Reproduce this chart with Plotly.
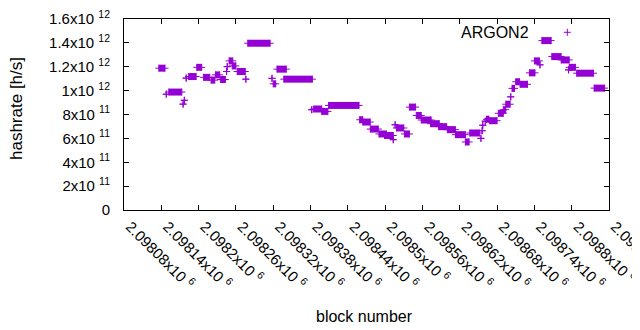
import plotly.graph_objects as go

# Runs of constant hashrate estimates: first block, last block, hashrate [h/s]
run_start = [2098136, 2098148, 2098152, 2098175, 2098177, 2098180, 2098184, 2098197,
             2098208, 2098220, 2098227, 2098235, 2098245, 2098246, 2098249, 2098254,
             2098262, 2098276, 2098279, 2098318, 2098320, 2098326, 2098337, 2098382,
             2098385, 2098398, 2098409, 2098459, 2098464, 2098476, 2098490, 2098499,
             2098513, 2098516, 2098518, 2098531, 2098539, 2098550, 2098558, 2098573,
             2098586, 2098600, 2098613, 2098629, 2098636, 2098654, 2098656, 2098657,
             2098661, 2098663, 2098668, 2098682, 2098690, 2098694, 2098702, 2098704,
             2098710, 2098717, 2098732, 2098740, 2098749, 2098752, 2098768, 2098783,
             2098795, 2098796, 2098808, 2098836]
run_end = [2098146, 2098148, 2098173, 2098175, 2098177, 2098180, 2098196, 2098205,
           2098218, 2098226, 2098234, 2098243, 2098245, 2098246, 2098255, 2098260,
           2098275, 2098276, 2098315, 2098318, 2098324, 2098341, 2098383, 2098382,
           2098398, 2098408, 2098458, 2098464, 2098476, 2098489, 2098502, 2098513,
           2098513, 2098516, 2098530, 2098539, 2098549, 2098558, 2098574, 2098587,
           2098599, 2098613, 2098629, 2098635, 2098652, 2098654, 2098656, 2098657,
           2098661, 2098667, 2098680, 2098690, 2098694, 2098701, 2098702, 2098708,
           2098716, 2098729, 2098741, 2098748, 2098749, 2098767, 2098783, 2098796,
           2098795, 2098806, 2098835, 2098853]
run_hashrate = [1.188e12, 0.970e12, 0.988e12, 0.887e12, 0.919e12, 1.105e12, 1.118e12, 1.195e12,
                1.111e12, 1.088e12, 1.132e12, 1.093e12, 1.160e12, 1.201e12, 1.249e12, 1.207e12,
                1.160e12, 1.096e12, 1.397e12, 1.103e12, 1.057e12, 1.180e12, 1.096e12, 0.840e12,
                0.846e12, 0.826e12, 0.876e12, 0.756e12, 0.737e12, 0.678e12, 0.637e12, 0.624e12,
                0.589e12, 0.714e12, 0.687e12, 0.637e12, 0.862e12, 0.792e12, 0.754e12, 0.723e12,
                0.698e12, 0.673e12, 0.631e12, 0.570e12, 0.645e12, 0.600e12, 0.664e12, 0.710e12,
                0.744e12, 0.760e12, 0.748e12, 0.810e12, 0.840e12, 0.886e12, 0.948e12, 1.019e12,
                1.074e12, 1.053e12, 1.149e12, 1.249e12, 1.216e12, 1.419e12, 1.285e12, 1.257e12,
                1.174e12, 1.195e12, 1.146e12, 1.021e12]

x_tickvals = [2098080, 2098140, 2098200, 2098260, 2098320, 2098380, 2098440,
              2098500, 2098560, 2098620, 2098680, 2098740, 2098800, 2098860]
x_ticktext = ["2.09808x10 <sup>6</sup>", "2.09814x10 <sup>6</sup>", "2.0982x10 <sup>6</sup>",
              "2.09826x10 <sup>6</sup>", "2.09832x10 <sup>6</sup>", "2.09838x10 <sup>6</sup>",
              "2.09844x10 <sup>6</sup>", "2.0985x10 <sup>6</sup>", "2.09856x10 <sup>6</sup>",
              "2.09862x10 <sup>6</sup>", "2.09868x10 <sup>6</sup>", "2.09874x10 <sup>6</sup>",
              "2.0988x10 <sup>6</sup>", "2.09886x10 <sup>6</sup>"]
y_tickvals = [0, 2e11, 4e11, 6e11, 8e11, 1e12, 1.2e12, 1.4e12, 1.6e12]
y_ticktext = ["0", "2x10 <sup>11</sup>", "4x10 <sup>11</sup>", "6x10 <sup>11</sup>",
              "8x10 <sup>11</sup>", "1x10 <sup>12</sup>", "1.2x10 <sup>12</sup>",
              "1.4x10 <sup>12</sup>", "1.6x10 <sup>12</sup>"]

COLOR = "#9400d3"
FONT = "Liberation Sans, Arial, sans-serif"

xs, ys = [], []
for s, e, v in zip(run_start, run_end, run_hashrate):
    xs += [s, e, None]
    ys += [v, v, None]

fig = go.Figure()
fig.add_trace(go.Scatter(
    x=xs, y=ys, mode="lines+markers",
    line=dict(color=COLOR, width=7),
    marker=dict(symbol="cross-thin", size=5, color=COLOR,
                line=dict(color=COLOR, width=1)),
    showlegend=False, hoverinfo="skip"))

# The page body has an 8px margin; lay out in window pixels and compensate.
OFF = 8
PLOT_L, PLOT_R, PLOT_T, PLOT_B = 124, 609, 19, 210   # plot area in window pixels
W, H = 640 - OFF, 330 - OFF
L = PLOT_L - OFF
T = PLOT_T - OFF
R = W - (PLOT_R - OFF)
B = H - (PLOT_B - OFF)
PW, PH = PLOT_R - PLOT_L, PLOT_B - PLOT_T

def px(x):
    return (x - PLOT_L) / PW

def py(y):
    return (PLOT_B - y) / PH

axis_common = dict(showline=True, linecolor="black", linewidth=1, mirror="ticks",
                   ticks="inside", ticklen=5, tickcolor="black", tickwidth=1,
                   showgrid=False, zeroline=False, ticklabeloverflow="allow",
                   tickfont=dict(family=FONT, size=15, color="black"))

fig.update_layout(
    width=W, height=H,
    margin=dict(l=L, r=R, t=T, b=B, autoexpand=False),
    paper_bgcolor="white", plot_bgcolor="white",
    xaxis=dict(range=[2098080, 2098860], tickmode="array", tickvals=x_tickvals,
               ticktext=x_ticktext, tickangle=45, automargin=False,
               ticklabelstandoff=1, ticklabelshift=6, **axis_common),
    yaxis=dict(range=[0, 1.6e12], tickmode="array", tickvals=y_tickvals,
               ticktext=y_ticktext, automargin=False, ticklabelstandoff=10,
               **axis_common),
    annotations=[
        dict(text="hashrate [h/s]", x=px(16), y=py(109), xref="paper", yref="paper",
             textangle=-90, showarrow=False, xanchor="center", yanchor="middle",
             font=dict(family=FONT, size=17, color="black")),
        dict(text="block number", x=px(364), y=py(316), xref="paper", yref="paper",
             showarrow=False, xanchor="center", yanchor="middle",
             font=dict(family=FONT, size=16, color="black")),
        dict(text="ARGON2", x=px(531), y=py(32), xref="paper", yref="paper",
             showarrow=False, xanchor="right", yanchor="middle",
             font=dict(family=FONT, size=16, color="black")),
    ],
    shapes=[
        dict(type="line", xref="paper", yref="paper", x0=px(563.8), x1=px(570.8),
             y0=py(32.3), y1=py(32.3), line=dict(color=COLOR, width=1)),
        dict(type="line", xref="paper", yref="paper", x0=px(567.3), x1=px(567.3),
             y0=py(28.8), y1=py(35.8), line=dict(color=COLOR, width=1)),
    ],
)

fig.write_html("out.html")
